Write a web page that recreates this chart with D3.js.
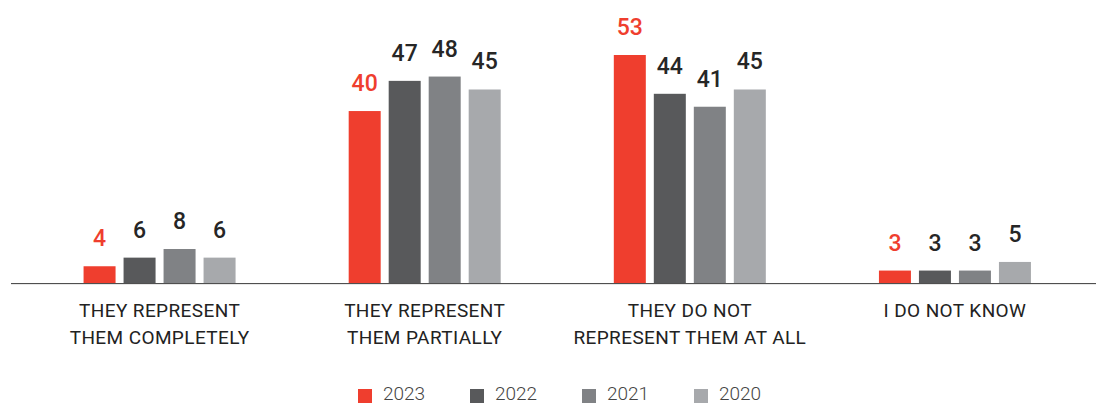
<!DOCTYPE html>
<html>
<head>
<meta charset="utf-8">
<script src="https://cdn.jsdelivr.net/npm/d3@7/dist/d3.min.js"></script>
<style>
  html, body { margin: 0; padding: 0; background: #fff; }
  svg { display: block; font-family: Roboto, "Noto Sans", sans-serif; }
</style>
</head>
<body>
<svg id="chart" width="1096" height="405"></svg>
<script>
const categories = [
  ["THEY REPRESENT", "THEM COMPLETELY"],
  ["THEY REPRESENT", "THEM PARTIALLY"],
  ["THEY DO NOT", "REPRESENT THEM AT ALL"],
  ["I DO NOT KNOW"]
];
const years = ["2023", "2022", "2021", "2020"];
const values2023 = [4, 40, 53, 3];
const values2022 = [6, 47, 44, 3];
const values2021 = [8, 48, 41, 3];
const values2020 = [6, 45, 45, 5];
const colors = ["#EF3E2E", "#58595B", "#808285", "#A7A9AC"];
const labelColors = ["#EF3E2E", "#262626", "#262626", "#262626"];

const series = [values2023, values2022, values2021, values2020];

const svg = d3.select("#chart");
const baseY = 283.5;

const x0 = d3.scaleBand()
  .domain(d3.range(categories.length))
  .range([27, 1087.5])
  .padding(0);

const x1 = d3.scaleBand()
  .domain(years)
  .range([0, 160])
  .paddingInner(0.2)
  .paddingOuter(0.1);

const y = d3.scaleLinear()
  .domain([0, 53])
  .range([baseY, 55]);

const groups = svg.selectAll("g.cat")
  .data(categories)
  .join("g")
  .attr("class", "cat")
  .attr("transform", (d, i) => `translate(${x0(i) + x0.bandwidth() / 2 - 80},0)`);

groups.each(function(cat, ci) {
  const g = d3.select(this);
  years.forEach((yr, si) => {
    const v = series[si][ci];
    g.append("rect")
      .attr("x", x1(yr))
      .attr("y", y(v))
      .attr("width", x1.bandwidth())
      .attr("height", y(0) - y(v))
      .attr("fill", colors[si]);
    g.append("text")
      .attr("x", x1(yr) + x1.bandwidth() / 2)
      .attr("y", y(v) - 20)
      .attr("text-anchor", "middle")
      .attr("font-size", 23)
      .attr("font-weight", 500)
      .attr("fill", labelColors[si])
      .text(v);
  });
});

// baseline
svg.append("line")
  .attr("x1", 11).attr("x2", 1096)
  .attr("y1", baseY + 0.5).attr("y2", baseY + 0.5)
  .attr("stroke", "#cfcfcf").attr("stroke-width", 1);
svg.append("line")
  .attr("x1", 11).attr("x2", 1096)
  .attr("y1", baseY).attr("y2", baseY)
  .attr("stroke", "#4f4f4f").attr("stroke-width", 1.2);

// category labels
const catLabels = svg.append("g");
categories.forEach((lines, i) => {
  const cx = x0(i) + x0.bandwidth() / 2;
  const t = catLabels.append("text")
    .attr("text-anchor", "middle")
    .attr("font-size", 19)
    .attr("letter-spacing", 0.4)
    .attr("fill", "#222")
    .attr("x", cx);
  lines.forEach((ln, li) => {
    t.append("tspan")
      .attr("x", cx)
      .attr("y", 317 + li * 26.5)
      .text(ln);
  });
});

// legend
const legend = svg.append("g");
years.forEach((yr, i) => {
  const lx = 358 + i * 112;
  legend.append("rect")
    .attr("x", lx).attr("y", 389)
    .attr("width", 14).attr("height", 14)
    .attr("fill", colors[i]);
  legend.append("text")
    .attr("x", lx + 25).attr("y", 400)
    .attr("font-size", 19)
    .attr("font-weight", 300)
    .attr("fill", "#444")
    .text(yr);
});
</script>
</body>
</html>
